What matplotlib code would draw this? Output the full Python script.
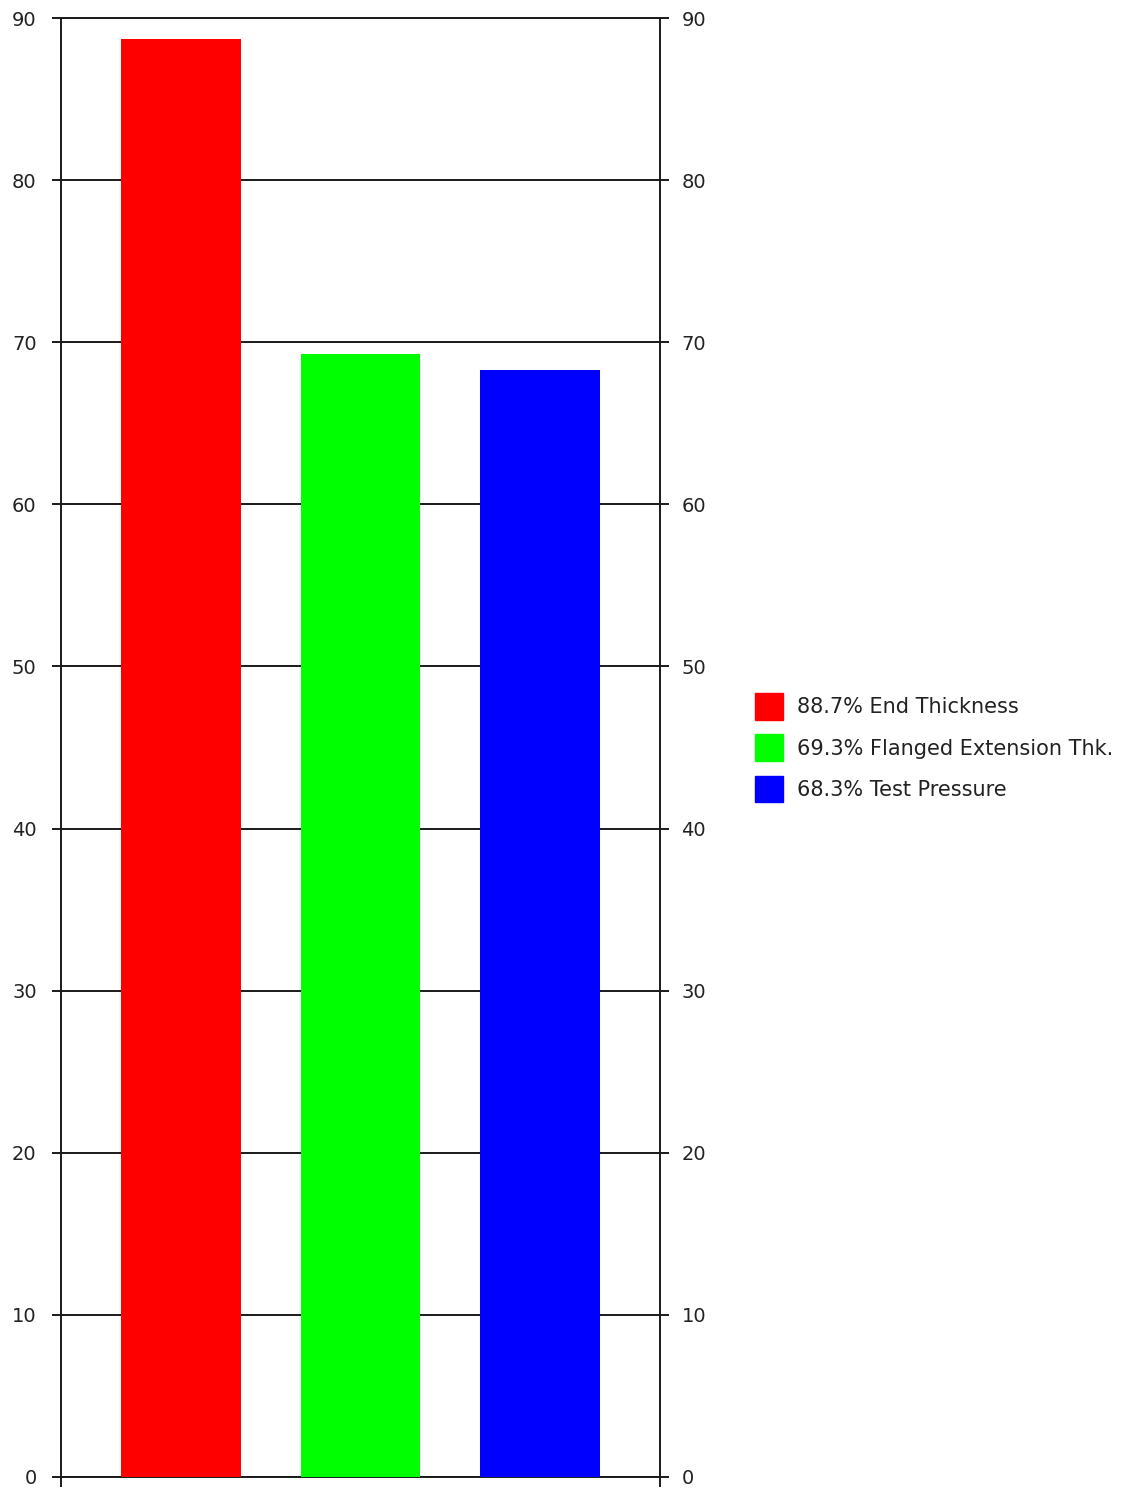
import matplotlib
matplotlib.use("Agg")
import matplotlib.pyplot as plt
from matplotlib.patches import Patch

# percentages of allowable for each check
labels = ["End Thickness", "Flanged Extension Thk.", "Test Pressure"]
values = [88.7, 69.3, 68.3]
colors = ["#ff0000", "#00ff00", "#0000ff"]
yticks = [0, 10, 20, 30, 40, 50, 60, 70, 80, 90]

W, H = 1122, 1490
fig = plt.figure(figsize=(W / 100, H / 100), dpi=100)
ax = fig.add_axes([61 / W, 13 / H, (660 - 61) / W, (1477 - 18) / H])

line_c = "#1a1a1a"
txt_c = "#222222"

# bars 2 units wide with 1 unit gaps
xpos = [2, 5, 8]
ax.bar(xpos, values, width=2, color=colors, zorder=3)
ax.set_xlim(0, 10)
ax.set_ylim(0, 90)

ax.set_yticks(yticks)
ax.yaxis.grid(True, color=line_c, linewidth=1.4, zorder=1)
ax.set_axisbelow(True)
ax.set_xticks([0, 10])
ax.set_xticklabels([])
ax.tick_params(axis="x", direction="out", length=7.5, width=1.4, color=line_c)
ax.tick_params(axis="y", direction="out", length=6.5, width=1.4, color=line_c,
               labelsize=14, labelcolor=txt_c, pad=11)
for s in ax.spines.values():
    s.set_color(line_c)
    s.set_linewidth(1.4)

ax2 = ax.twinx()
ax2.set_ylim(0, 90)
ax2.set_yticks(yticks)
ax2.tick_params(axis="y", direction="out", length=6.5, width=1.4, color=line_c,
                labelsize=14, labelcolor=txt_c, pad=9)
for s in ax2.spines.values():
    s.set_visible(False)

handles = [Patch(facecolor=c, edgecolor=c) for c in colors]
leg_labels = [f"{v}% {l}" for v, l in zip(values, labels)]
fig.legend(handles, leg_labels, loc="upper left", bbox_to_anchor=(755 / W, 1 - 693 / H),
           frameon=False, fontsize=15, handlelength=1.35, handleheight=1.6,
           handletextpad=0.67, labelspacing=0.7, borderpad=0, borderaxespad=0,
           labelcolor=txt_c)

fig.savefig("out.png", dpi=100)
